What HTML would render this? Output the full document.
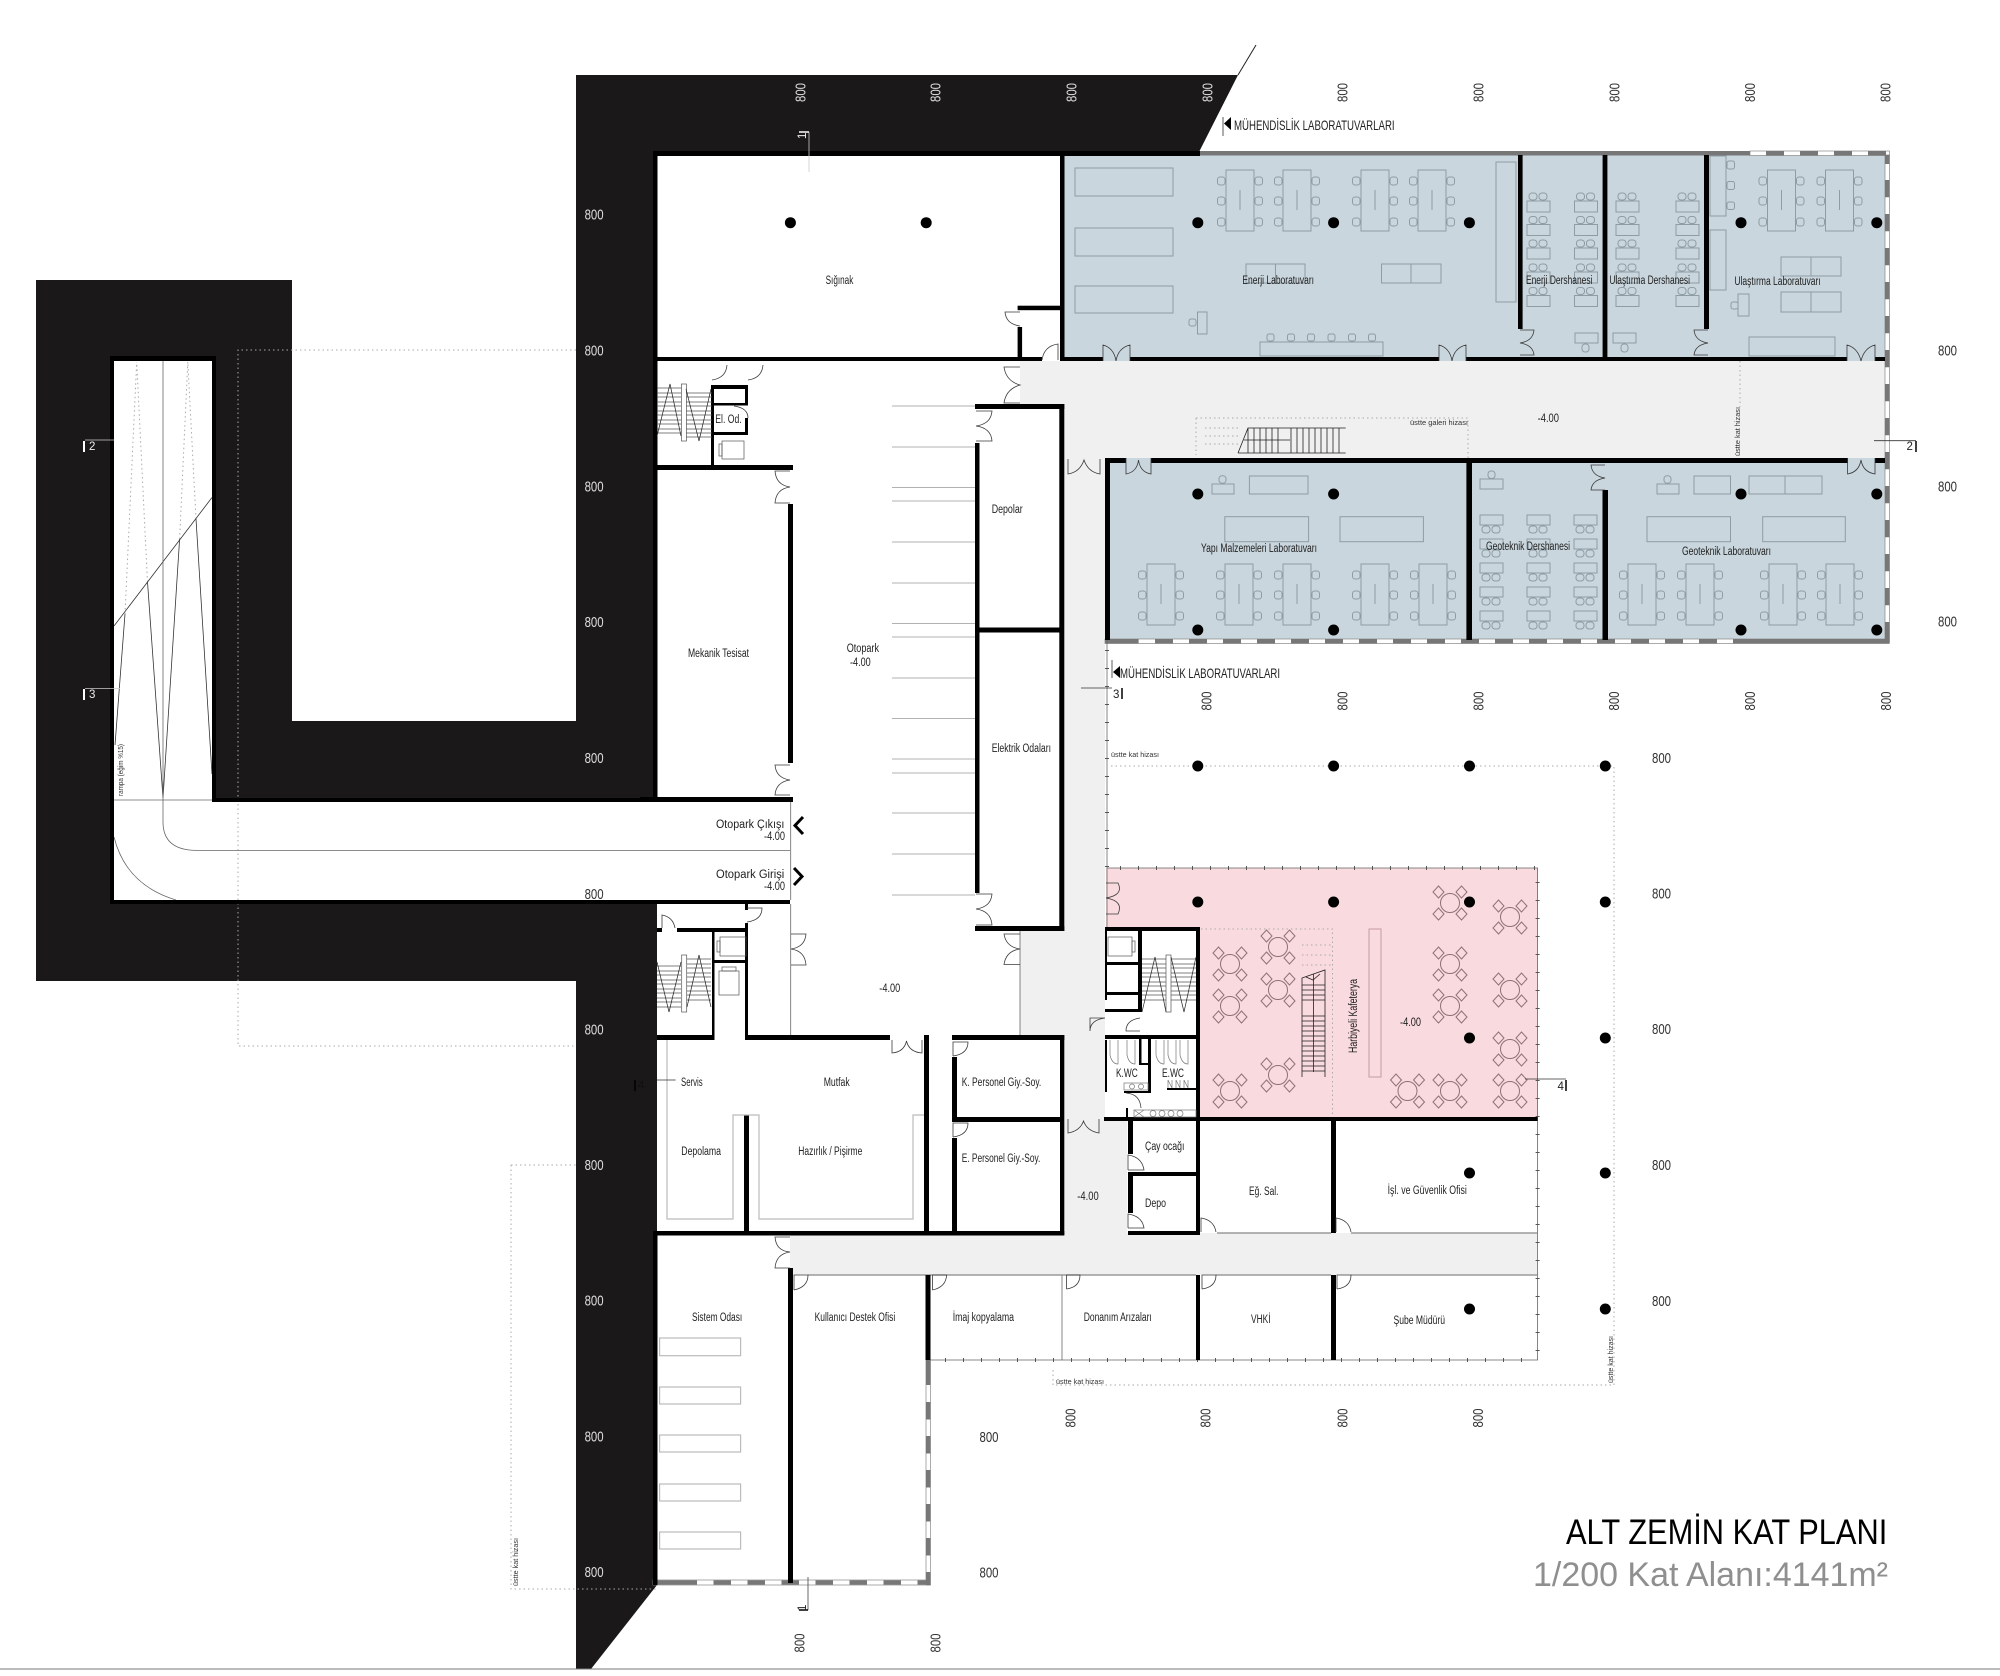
<!DOCTYPE html>
<html lang="tr"><head><meta charset="utf-8"><title>Alt Zemin Kat Planı</title>
<style>
html,body{margin:0;padding:0;background:#fff}
svg{display:block}
text{font-family:"Liberation Sans",sans-serif}
.l text{font-size:11.5px;fill:#222}
.s text{font-size:7px;fill:#333}
.nw text{font-size:15px;fill:#ddd}
.nd text{font-size:15px;fill:#333}
.d{fill:none;stroke:#3a3a3a;stroke-width:.8}
.f{fill:none;stroke:#8e9ca4;stroke-width:1}
.k{fill:#000}
</style></head><body>
<svg xmlns="http://www.w3.org/2000/svg" width="2000" height="1676" viewBox="0 0 2000 1676">
<defs>
<g id="t6" fill="none" stroke="#8e9ca4" stroke-width="1"><rect width="28" height="61"/><path d="M14 20V40"/><rect x="-8.500" y="7" width="7.500" height="8" rx="2.500"/><rect x="-8.500" y="27" width="7.500" height="8" rx="2.500"/><rect x="-8.500" y="48" width="7.500" height="8" rx="2.500"/><rect x="29" y="7" width="7.500" height="8" rx="2.500"/><rect x="29" y="27" width="7.500" height="8" rx="2.500"/><rect x="29" y="48" width="7.500" height="8" rx="2.500"/></g>
<g id="d2" fill="none" stroke="#8e9ca4" stroke-width="1"><rect y="8" width="23" height="11"/><rect x="2" width="8" height="7" rx="3"/><rect x="12" width="8" height="7" rx="3"/></g>
<g id="d2b" fill="none" stroke="#8e9ca4" stroke-width="1"><rect width="23" height="10"/><rect x="2" y="11" width="8" height="7" rx="3"/><rect x="12" y="11" width="8" height="7" rx="3"/></g>
<g id="cf" fill="none" stroke="#8f7076" stroke-width="1"><circle r="9.500"/><path d="M-11.500 -17l5.500 6-5.500 6-5.500-6zM11.500 -17l5.500 6-5.500 6-5.500-6zM-11.500 5l5.500 6-5.500 6-5.500-6zM11.500 5l5.500 6-5.500 6-5.500-6z"/></g>
<circle id="c" r="5.500" fill="#000"/>
</defs>
<rect width="2000" height="1676" fill="#fff"/>

<!-- black earth mass -->
<polygon fill="#1a1819" points="576,75 1238,75 1199,152 1199,155 657,155 657,800 212,800 212,361 114,361 114,900 657,900 657,1585 591,1669 576,1669 576,981 36,981 36,280 292,280 292,721 576,721"/>
<path d="M1238 75L1256 45" stroke="#222" stroke-width="1" fill="none"/>
<path d="M0 1669H2000" stroke="#777" stroke-width="1"/>

<!-- fills -->
<g>
<rect x="1064" y="155" width="823" height="203" fill="#c9d6dd"/>
<rect x="1108" y="463" width="779" height="177" fill="#c9d6dd"/>
<path fill="#f0f0f0" d="M1020 361H1887V458H1105V1100H1127V1233H1537V1275H790V1235H1064V1040H1020V931H1064V404H1020Z"/>
<rect x="1106" y="868" width="431.500" height="250" fill="#f9dade"/>
<rect x="1106" y="928" width="92" height="190" fill="#fff"/>
<rect x="1105" y="1040" width="22" height="80" fill="#fff"/>
</g>

<!-- window bands -->
<g fill="#fff" stroke="#888" stroke-width=".7">
<rect x="1750" y="151" width="139.500" height="4.500"/>
<rect x="1885" y="155" width="4.500" height="488"/>
<rect x="1105" y="639" width="784" height="4.500"/>
<rect x="926" y="1360" width="4.500" height="225"/>
<rect x="653" y="1580" width="277" height="5"/>
</g>
<g fill="none" stroke="#777" stroke-width="4.500">
<path d="M1200 153.200H1750"/>
<path d="M1766 153.200H1889.500" stroke-dasharray="18 16"/>
<path d="M1887.200 155V164"/>
<path d="M1887.200 180V640" stroke-dasharray="17.300 16.700"/>
<path d="M1105 641.300H1138.600"/>
<path d="M1155 641.300H1733" stroke-dasharray="18 16"/>
<path d="M1733 641.300H1889.500"/>
<path d="M928.200 1360V1385"/>
<path d="M928.200 1402V1585" stroke-dasharray="17.500 16.500"/>
<path d="M653 1582.500H697"/>
<path d="M713.500 1582.500H930" stroke-dasharray="17.500 16.500"/>
</g>

<!-- thin outline lines with ticks -->
<g fill="none" stroke="#666" stroke-width=".8">
<path d="M1107 640V930M1107 868H1537.600V1360H930M1062 1275V1360M790.700 802V900M790.700 904V1035M1020 931V1035"/>
<path d="M1217 1233H1331M1351 1233H1537M808 1275H1196M1216 1275H1331M1351 1275H1537" stroke="#888" stroke-width="1.200"/>
</g>
<g fill="none" stroke="#555" stroke-width="4" stroke-dasharray="1 17">
<path d="M1107 650V868"/><path d="M1120 868H1537"/><path d="M1537.600 882V1355"/><path d="M945 1360H1537"/>
</g>

<!-- dotted hidden lines -->
<g fill="none" stroke="#aaa" stroke-width="1" stroke-dasharray="1.500 3">
<path d="M576 350H238V1046H576"/>
<path d="M511 1165H576M511 1165V1589H657"/>
<path d="M1111 766H1614V1385H1053V1367"/>
<path d="M1196 418H1468V458M1196 418V455"/>
<path d="M1740 361V407"/>
<path d="M1201 929H1332.500V1117"/>
<path d="M1302 945H1332M1302 955H1332M1302 965H1332"/>
<path d="M1205 428H1240M1205 436H1240M1205 444H1240"/>
<path d="M125 614L136.700 362M147.500 582L136.700 362M179.600 539L187.800 362M196 519L187.800 362"/>
</g>

<!-- ramp lines -->
<g fill="none" stroke="#333" stroke-width=".8">
<path d="M114 626L212 497.500"/>
<path d="M115 745L125 614M147.500 582L163 798L179.600 539M196 519L212 774"/>
</g>
<g fill="none" stroke="#666" stroke-width=".8">
<path d="M163 361V822Q163 850 196 850.400H790"/>
<path d="M114 800H212"/>
<path d="M114 837Q126 885 176 900"/>
</g>

<!-- parking lines -->
<path fill="none" stroke="#999" stroke-width=".8" d="M892 406H975M892 447H975M892 487.400H975M892 501H975M892 542H975M892 583H975M892 623.600H975M892 637H975M892 678H975M892 718.600H975M892 759H975M892 773H975M892 813H975M892 854H975M892 895H975"/>

<!-- walls -->
<g class="k">
<rect x="653" y="151" width="547" height="5"/>
<rect x="653" y="151" width="4.500" height="649"/>
<rect x="657" y="357" width="385" height="4"/>
<rect x="1060" y="357" width="43" height="4"/>
<rect x="1130" y="357" width="309" height="4"/>
<rect x="1466" y="357" width="381" height="4"/>
<rect x="1875" y="357" width="10" height="4"/>
<rect x="1060" y="155" width="4.500" height="206"/>
<rect x="1017.600" y="305.700" width="42.400" height="4.500"/>
<rect x="1017.600" y="327" width="4.500" height="30"/>
<rect x="1518" y="155" width="4.600" height="174"/>
<rect x="1602.600" y="155" width="4.800" height="203"/>
<rect x="1704" y="155" width="5" height="174"/>
<!-- depolar -->
<rect x="975" y="404" width="89.300" height="5"/>
<rect x="975" y="443" width="4.500" height="450"/>
<rect x="1059.300" y="404" width="5" height="527"/>
<rect x="975" y="627.500" width="89" height="5"/>
<rect x="975" y="926" width="89.300" height="5"/>
<!-- lower labs -->
<rect x="1105" y="458" width="21" height="5"/>
<rect x="1151" y="458" width="696.600" height="5"/>
<rect x="1875" y="458" width="10" height="5"/>
<rect x="1105" y="458" width="5" height="182"/>
<rect x="1466.400" y="463" width="5.600" height="177"/>
<rect x="1602.500" y="490" width="5.500" height="150"/>
<!-- upper left service -->
<rect x="657" y="465" width="136" height="5"/>
<rect x="788" y="504" width="5" height="259"/>
<rect x="640" y="797" width="153" height="5"/>
<rect x="640" y="900" width="150" height="4"/>
<rect x="711" y="385" width="3" height="80"/>
<rect x="711" y="385" width="37" height="4"/>
<rect x="745" y="385" width="3" height="20"/>
<rect x="711" y="403" width="37" height="2.500"/>
<rect x="745" y="418" width="3" height="15"/>
<rect x="711" y="432" width="37" height="3"/>
<!-- corridor ramp walls -->
<rect x="110" y="356" width="4" height="548"/>
<rect x="110" y="356" width="106" height="5"/>
<rect x="212" y="356" width="4" height="446"/>
<rect x="212" y="798" width="441" height="4"/>
<rect x="110" y="900" width="547" height="4"/>
<!-- lower left service -->
<rect x="657" y="928" width="5" height="4"/>
<rect x="677" y="928" width="71" height="4"/>
<rect x="745" y="904" width="3" height="6"/>
<rect x="745" y="923" width="3" height="117"/>
<rect x="712" y="932" width="2.500" height="108"/>
<rect x="712" y="960" width="36" height="3"/>
<rect x="657" y="1035" width="57" height="5"/>
<rect x="745" y="1035" width="145" height="5"/>
<rect x="924" y="1035" width="5" height="196"/>
<rect x="952" y="1035" width="112.300" height="5"/>
<rect x="952" y="1057" width="5" height="60"/>
<rect x="952" y="1117" width="112" height="5"/>
<rect x="952" y="1138" width="5" height="93"/>
<rect x="1060" y="1035" width="4.300" height="200"/>
<rect x="744" y="1115" width="5" height="116"/>
<rect x="657" y="1231" width="407.300" height="4.500"/>
<rect x="653" y="1231" width="4.500" height="354"/>
<rect x="788" y="1268" width="5" height="315"/>
<rect x="925.500" y="1275" width="5" height="85"/>
<!-- wc block -->
<rect x="1105" y="927" width="95" height="4"/>
<rect x="1196" y="927" width="4" height="308"/>
<rect x="1105" y="927" width="2" height="73"/>
<rect x="1138" y="931" width="4" height="81"/>
<rect x="1105" y="962" width="35" height="3"/>
<rect x="1105" y="992" width="35" height="3"/>
<rect x="1105" y="1009" width="35" height="3"/>
<rect x="1105" y="1035" width="93" height="4"/>
<rect x="1105" y="1040" width="2" height="52"/>
<rect x="1139" y="1039" width="2.500" height="25"/>
<rect x="1139" y="1063" width="11" height="2"/>
<rect x="1148" y="1039" width="3" height="53"/>
<rect x="1124" y="1091" width="27" height="2"/>
<rect x="1167" y="1088" width="29" height="2"/>
<rect x="1126" y="1108" width="2" height="12"/>
<rect x="1104" y="1117" width="433.500" height="4"/>
<rect x="1128" y="1121" width="5" height="33"/>
<rect x="1128" y="1172" width="70" height="4"/>
<rect x="1128" y="1176" width="5" height="37"/>
<rect x="1128" y="1231" width="72" height="4"/>
<rect x="1331" y="1121" width="5" height="112"/>
<rect x="1196" y="1275" width="4" height="85"/>
<rect x="1331" y="1275" width="5" height="85"/>
</g>

<!-- lab door gaps -->
<g fill="#c9d6dd"><rect x="1103" y="345" width="27" height="16"/><rect x="1439" y="345" width="27" height="16"/><rect x="1847" y="345" width="28" height="16"/><rect x="1126" y="458" width="25" height="16"/><rect x="1847.600" y="458" width="27.400" height="16"/></g>

<!-- doors -->
<path class="d" d="
M1020 312H1005Q1006 324 1020 326
M1058 360V344Q1044 346 1042 360
M1103 361V345Q1114 348 1116 361Q1118 348 1130 345V361
M1439 361V345Q1450 348 1452 361Q1454 348 1466 345V361
M1847 361V345Q1858 348 1861 361Q1864 348 1875 345V361
M1520 330H1534Q1533 341 1520 343Q1533 345 1534 355H1520
M1708 330H1694Q1695 341 1708 343Q1695 345 1694 355H1708
M1020 367H1004Q1006 381 1020 385Q1006 389 1004 403H1020
M976 411H992Q991 424 976 426Q991 428 992 441H976
M976 894H992Q991 907 976 909Q991 911 992 925H976
M1020 934H1004Q1006 947 1020 949Q1006 951 1004 964.500H1020
M790 471H775Q776 485 790 487Q776 489 775 503H790
M790 765H775Q776 778 790 780Q776 782 775 795H790
M791 934H806Q805 947 791 949Q805 951 806 965H791
M1068 459V474Q1080 472 1084 460Q1088 472 1100 474V459
M1126 458V474Q1137 472 1138.500 460Q1140 472 1151 474V458
M1847.600 458V474Q1859 472 1861 460Q1863 472 1875 474V458
M1605 465H1591Q1592 476 1605 478Q1592 480 1591 490H1605
M727 365Q726 378 712 380M763 365Q762 378 748 380
M748 418Q748 408 734 406
M1068 1119V1133Q1080 1131 1083.500 1121Q1087 1131 1099 1133V1119
M892 1040V1053Q904 1052 906.500 1041Q909 1052 922 1053V1040
M953 1056V1042H968Q968 1054 953 1056M953 1137V1123H968Q968 1135 953 1137
M1105 1018H1090V1031M1090 1031Q1090 1020 1105 1018M1140 1018Q1126 1020 1126 1031H1140
M1106 883H1118Q1124 895 1106 898Q1124 901 1118 914H1106
M1128 1170V1155Q1142 1157 1144 1170H1128M1128 1228V1214Q1142 1216 1144 1228H1128
M1201 1232V1218Q1214 1220 1216 1232M1336 1232V1218Q1349 1220 1351 1232
M794 1290V1275H808Q808 1287 794 1290M932.500 1290V1275H946.600Q946 1287 932.500 1290M1066.500 1289V1275H1080Q1080 1287 1066.500 1289M1202 1289V1275H1216Q1216 1287 1202 1289M1337 1289V1275H1351Q1351 1287 1337 1289
M790 1237H775Q776 1251 790 1252Q776 1254 775 1268H790
M662 928V915Q673 917 675 928M747 922Q762 920 762 908H747
M1141 1108Q1140 1094 1126 1093
"/>

<!-- stairs -->
<g fill="none" stroke="#555" stroke-width=".7">
<path d="M657 388H681M657 393H681M657 397H681M657 402H681M657 406H681M657 411H681M657 415H681M657 420H681M657 424H681M657 429H681M657 433H681M686 393H712M686 397H712M686 402H712M686 406H712M686 411H712M686 415H712M686 420H712M686 424H712M686 429H712M686 433H712M686 437H712"/>
<rect x="681.400" y="384" width="5" height="57"/>
<path d="M657 436L670 384L681 436M686 389L699 441L711 389" stroke="#222"/>
<path d="M657 966H681M657 971H681M657 975H681M657 980H681M657 984H681M657 989H681M657 993H681M657 998H681M657 1002H681M657 1007H681M687 959H711M687 964H711M687 968H711M687 973H711M687 977H711M687 982H711M687 986H711M687 991H711M687 995H711M687 1000H711"/>
<rect x="681.700" y="955" width="5" height="57"/>
<path d="M657 962L669 1012L681 962M687 1007L699 955L711 1007" stroke="#222"/>
<path d="M1142 959H1166M1142 964H1166M1142 968H1166M1142 973H1166M1142 977H1166M1142 982H1166M1142 986H1166M1142 991H1166M1142 995H1166M1142 1000H1166M1171 959H1196M1171 964H1196M1171 968H1196M1171 973H1196M1171 977H1196M1171 982H1196M1171 986H1196M1171 991H1196M1171 995H1196M1171 1000H1196"/>
<rect x="1166" y="955" width="5" height="57"/>
<path d="M1142 1012L1155 957L1166 1012M1171 957L1184 1012L1196 957" stroke="#222"/>
<!-- elevators -->
<rect x="722" y="441" width="22" height="18"/><rect x="719" y="444" width="3" height="12"/>
<rect x="720" y="937" width="26" height="19"/><rect x="717" y="941" width="3" height="11"/>
<rect x="719" y="971" width="20" height="24"/><rect x="722" y="967" width="14" height="4"/>
<rect x="1108" y="937" width="24" height="19"/><rect x="1132" y="941" width="3" height="11"/>
</g>
<g fill="none" stroke="#222" stroke-width=".8">
<!-- gallery stair -->
<path d="M1238 453L1248 428H1345.700M1238 453H1345.700M1248 428V453M1254 428V453M1260 428V453M1266 428V453M1272 428V453M1278 428V453M1291 428V453M1297 428V453M1303 428V453M1309 428V453M1315 428V453M1321 428V453M1327 428V453M1333 428V453M1339 428V453M1244 440H1290"/>
<!-- cafe stair -->
<path d="M1302 1077V978L1325 970V1077M1302 1016H1325M1302 1021H1325M1302 1026H1325M1302 1031H1325M1302 1036H1325M1302 1041H1325M1302 1046H1325M1302 1051H1325M1302 1056H1325M1302 1061H1325M1302 1066H1325M1302 1071H1325M1302 985H1325M1302 990H1325M1302 995H1325M1302 1000H1325M1313.500 974V1072M1306 977L1313 980L1320 974"/>
</g>
<!-- WC fixtures -->
<g fill="none" stroke="#777" stroke-width=".7">
<path d="M1110 1040V1055Q1112 1064 1118 1064V1040M1127 1040V1055Q1129 1064 1135 1064V1040M1156 1040V1055Q1158 1064 1164 1064V1040M1168 1040V1055Q1170 1064 1176 1064V1040M1180 1040V1055Q1182 1064 1188 1064V1040"/>
<rect x="1124" y="1083" width="24" height="7"/><circle cx="1132" cy="1086.500" r="2.500"/><circle cx="1141" cy="1086.500" r="2.500"/>
<path d="M1168 1088V1080L1172 1088V1080M1176 1088V1080L1180 1088V1080M1184 1088V1080L1188 1088V1080"/>
<rect x="1134" y="1110" width="62" height="7"/><path d="M1134 1110L1144 1117M1144 1110L1134 1117"/><circle cx="1153" cy="1113.500" r="3"/><circle cx="1162" cy="1113.500" r="3"/><circle cx="1171" cy="1113.500" r="3"/><circle cx="1180" cy="1113.500" r="3"/>
</g>

<!-- kitchen counters & racks -->
<g fill="none" stroke="#bbb" stroke-width="1.200">
<path d="M667 1040V1219H733V1115H759V1219H913V1115H924"/>
<rect x="659.600" y="1338" width="81" height="17.700"/><rect x="659.600" y="1387" width="81" height="17"/><rect x="659.600" y="1435" width="81" height="17"/><rect x="659.600" y="1484" width="81" height="17"/><rect x="659.600" y="1532" width="81" height="17"/>
</g>

<!-- energy lab furniture -->
<g class="f">
<rect x="1075" y="168" width="98" height="28"/><rect x="1075" y="228" width="98" height="28"/><rect x="1075" y="286" width="98" height="27"/>
<rect x="1496" y="162" width="20" height="140"/>
<path d="M1246 264H1305V283H1246ZM1275.500 264V283M1381.500 264H1441V283H1381.500ZM1411 264V283"/>
<rect x="1197.500" y="312" width="9.500" height="22"/><rect x="1189" y="319" width="7" height="7" rx="2"/>
<rect x="1260" y="342" width="123" height="14"/>
<rect x="1267" y="334" width="7" height="7" rx="2"/><rect x="1287.500" y="334" width="7" height="7" rx="2"/><rect x="1307.500" y="334" width="7" height="7" rx="2"/><rect x="1328" y="334" width="7" height="7" rx="2"/><rect x="1348.500" y="334" width="7" height="7" rx="2"/><rect x="1368.500" y="334" width="7" height="7" rx="2"/>
<rect x="1710" y="156" width="16" height="60"/><rect x="1710" y="230" width="16" height="60"/>
<rect x="1727" y="161" width="7.500" height="8" rx="2"/><rect x="1727" y="181.500" width="7.500" height="8" rx="2"/><rect x="1727" y="202" width="7.500" height="7.500" rx="2"/>
<path d="M1781 257H1841V276H1781ZM1811 257V276M1781 292H1841V312H1781ZM1811 292V312"/>
<rect x="1738" y="294" width="11" height="22"/><rect x="1731" y="302" width="7" height="7" rx="2"/>
<rect x="1749" y="337" width="86" height="19"/>
<rect x="1575" y="333" width="23" height="10"/><rect x="1582" y="344" width="7" height="8" rx="3"/>
<rect x="1613" y="333" width="23" height="10"/><rect x="1621" y="344" width="7" height="8" rx="3"/>
<!-- lower labs -->
<rect x="1212" y="484" width="22" height="10"/><rect x="1219" y="475.700" width="7" height="7.500" rx="3"/>
<rect x="1249.400" y="476" width="58.600" height="18"/>
<rect x="1224.800" y="516.700" width="83.800" height="25"/><rect x="1340" y="516.700" width="83.400" height="25"/>
<rect x="1657" y="484" width="22" height="10"/><rect x="1664" y="475.700" width="7" height="7.500" rx="3"/>
<rect x="1694" y="476" width="36.500" height="18"/>
<path d="M1749 476H1822V494H1749ZM1785 476V494"/>
<rect x="1647" y="516.700" width="83.500" height="25"/><rect x="1762.700" y="516.700" width="82.600" height="25"/>
<rect x="1480" y="479" width="23" height="10"/><rect x="1488" y="471" width="7" height="7.500" rx="3"/>
</g>
<g>
<use href="#t6" x="1226" y="170"/><use href="#t6" x="1283" y="170"/><use href="#t6" x="1361" y="170"/><use href="#t6" x="1418" y="170"/><use href="#t6" x="1767.500" y="170"/><use href="#t6" x="1825.500" y="170"/>
<use href="#t6" x="1147" y="564"/><use href="#t6" x="1225" y="564"/><use href="#t6" x="1283" y="564"/><use href="#t6" x="1361" y="564"/><use href="#t6" x="1419" y="564"/><use href="#t6" x="1628" y="564"/><use href="#t6" x="1686" y="564"/><use href="#t6" x="1769" y="564"/><use href="#t6" x="1826" y="564"/>
<use href="#d2" x="1527" y="193"/><use href="#d2" x="1574.500" y="193"/><use href="#d2" x="1616" y="193"/><use href="#d2" x="1676" y="193"/>
<use href="#d2" x="1527" y="216.500"/><use href="#d2" x="1574.500" y="216.500"/><use href="#d2" x="1616" y="216.500"/><use href="#d2" x="1676" y="216.500"/>
<use href="#d2" x="1527" y="240"/><use href="#d2" x="1574.500" y="240"/><use href="#d2" x="1616" y="240"/><use href="#d2" x="1676" y="240"/>
<use href="#d2" x="1527" y="264"/><use href="#d2" x="1574.500" y="264"/><use href="#d2" x="1616" y="264"/><use href="#d2" x="1676" y="264"/>
<use href="#d2" x="1527" y="287.500"/><use href="#d2" x="1574.500" y="287.500"/><use href="#d2" x="1616" y="287.500"/><use href="#d2" x="1676" y="287.500"/>
<use href="#d2b" x="1480" y="515"/><use href="#d2b" x="1527" y="515"/><use href="#d2b" x="1574" y="515"/>
<use href="#d2b" x="1480" y="539"/><use href="#d2b" x="1527" y="539"/><use href="#d2b" x="1574" y="539"/>
<use href="#d2b" x="1480" y="563"/><use href="#d2b" x="1527" y="563"/><use href="#d2b" x="1574" y="563"/>
<use href="#d2b" x="1480" y="587"/><use href="#d2b" x="1527" y="587"/><use href="#d2b" x="1574" y="587"/>
<use href="#d2b" x="1480" y="611"/><use href="#d2b" x="1527" y="611"/><use href="#d2b" x="1574" y="611"/>
<use href="#cf" x="1450" y="903"/><use href="#cf" x="1510" y="917"/><use href="#cf" x="1230" y="964"/><use href="#cf" x="1278" y="947"/><use href="#cf" x="1450" y="964"/><use href="#cf" x="1278" y="990"/><use href="#cf" x="1230" y="1006"/><use href="#cf" x="1510" y="990"/><use href="#cf" x="1450" y="1006"/><use href="#cf" x="1510" y="1049"/><use href="#cf" x="1278" y="1075"/><use href="#cf" x="1230" y="1091"/><use href="#cf" x="1407.500" y="1091"/><use href="#cf" x="1450" y="1091"/><use href="#cf" x="1510" y="1091"/>
</g>
<rect x="1369" y="929" width="12" height="148" fill="none" stroke="#c59aa2" stroke-width="1"/>

<!-- columns -->
<g>
<use href="#c" x="790.400" y="222.700"/><use href="#c" x="926.200" y="222.700"/><use href="#c" x="1197.800" y="222.700"/><use href="#c" x="1333.600" y="222.700"/><use href="#c" x="1469.400" y="222.700"/><use href="#c" x="1741" y="222.700"/><use href="#c" x="1876.800" y="222.700"/>
<use href="#c" x="1197.800" y="494"/><use href="#c" x="1333.600" y="494"/><use href="#c" x="1741" y="494"/><use href="#c" x="1876.800" y="494"/>
<use href="#c" x="1197.800" y="630"/><use href="#c" x="1333.600" y="630"/><use href="#c" x="1741" y="630"/><use href="#c" x="1876.800" y="630"/>
<use href="#c" x="1197.800" y="766"/><use href="#c" x="1333.600" y="766"/><use href="#c" x="1469.500" y="766"/><use href="#c" x="1605.300" y="766"/>
<use href="#c" x="1197.800" y="902"/><use href="#c" x="1333.600" y="902"/><use href="#c" x="1469.500" y="902"/><use href="#c" x="1605.300" y="902"/>
<use href="#c" x="1469.500" y="1038"/><use href="#c" x="1605.300" y="1038"/><use href="#c" x="1469.500" y="1173"/><use href="#c" x="1605.300" y="1173"/><use href="#c" x="1469.500" y="1309"/><use href="#c" x="1605.300" y="1309"/>
</g>

<!-- chevrons and section lines -->
<path d="M803 817L795 825.500L803 834M794 868L802 876.500L794 885" fill="none" stroke="#000" stroke-width="3"/>
<path d="M1231 117L1224 123.500L1231 130Z" fill="#000"/><path d="M1120 666L1113 672L1120 678Z" fill="#000"/>
<path d="M1223 117V136M1112 660V678" stroke="#333" stroke-width=".8" fill="none"/>
<g fill="none" stroke-width=".8">
<path d="M809 132V172" stroke="#ccc"/><path d="M799 132H809" stroke="#fff" stroke-width="1.500"/>
<path d="M808 1577V1610" stroke="#444"/><path d="M799 1610H808" stroke="#000" stroke-width="1.500"/>
<path d="M85 440H114M85 688.500H120" stroke="#ccc"/>
<path d="M84 441V452M84 689V700" stroke="#fff" stroke-width="2"/>
<path d="M1874 440.700H1916M1081 688H1112M1525 1079H1566" stroke="#333"/>
<path d="M1916 441V452M1122 688V699M1566 1080V1091" stroke="#000" stroke-width="1.500"/>
<path d="M657 1080H675.600" stroke="#333"/>
<path d="M635 1080V1091" stroke="#000" stroke-width="1.500"/>
</g>

<!-- room labels -->
<g class="l">
<text x="825.600" y="284" textLength="27.700" lengthAdjust="spacingAndGlyphs">Sığınak</text>
<text x="1242.400" y="284" textLength="71.600" lengthAdjust="spacingAndGlyphs">Enerji Laboratuvarı</text>
<text x="1526" y="284" textLength="66.400" lengthAdjust="spacingAndGlyphs">Enerji Dershanesi</text>
<text x="1609.400" y="284" textLength="80.600" lengthAdjust="spacingAndGlyphs">Ulaştırma Dershanesi</text>
<text x="1734.400" y="285" textLength="86.300" lengthAdjust="spacingAndGlyphs">Ulaştırma Laboratuvarı</text>
<text x="1537.600" y="422" textLength="21.400" lengthAdjust="spacingAndGlyphs">-4.00</text>
<text x="991.700" y="513" textLength="31" lengthAdjust="spacingAndGlyphs">Depolar</text>
<text x="991.700" y="752" textLength="59.300" lengthAdjust="spacingAndGlyphs">Elektrik Odaları</text>
<text x="846.700" y="652" textLength="32.300" lengthAdjust="spacingAndGlyphs">Otopark</text>
<text x="850" y="666" textLength="20.700" lengthAdjust="spacingAndGlyphs">-4.00</text>
<text x="688" y="657" textLength="61" lengthAdjust="spacingAndGlyphs">Mekanik Tesisat</text>
<text x="715.300" y="423" textLength="26.400" lengthAdjust="spacingAndGlyphs">El. Od.</text>
<text x="716" y="828" textLength="68.300" lengthAdjust="spacingAndGlyphs">Otopark Çıkışı</text>
<text x="764" y="840" textLength="21" lengthAdjust="spacingAndGlyphs">-4.00</text>
<text x="716" y="878" textLength="68.300" lengthAdjust="spacingAndGlyphs">Otopark Girişi</text>
<text x="764" y="890" textLength="21" lengthAdjust="spacingAndGlyphs">-4.00</text>
<text x="879.300" y="992" textLength="21" lengthAdjust="spacingAndGlyphs">-4.00</text>
<text x="681" y="1086" textLength="21.700" lengthAdjust="spacingAndGlyphs">Servis</text>
<text x="823.700" y="1086" textLength="26" lengthAdjust="spacingAndGlyphs">Mutfak</text>
<text x="681.300" y="1155" textLength="39.700" lengthAdjust="spacingAndGlyphs">Depolama</text>
<text x="798.300" y="1155" textLength="64" lengthAdjust="spacingAndGlyphs">Hazırlık / Pişirme</text>
<text x="961.700" y="1086" textLength="79.600" lengthAdjust="spacingAndGlyphs">K. Personel Giy.-Soy.</text>
<text x="961.700" y="1162" textLength="78.700" lengthAdjust="spacingAndGlyphs">E. Personel Giy.-Soy.</text>
<text x="1077.300" y="1200" textLength="21.400" lengthAdjust="spacingAndGlyphs">-4.00</text>
<text x="1145" y="1150" textLength="39.400" lengthAdjust="spacingAndGlyphs">Çay ocağı</text>
<text x="1145" y="1207" textLength="21" lengthAdjust="spacingAndGlyphs">Depo</text>
<text x="1249" y="1195" textLength="29.500" lengthAdjust="spacingAndGlyphs">Eğ. Sal.</text>
<text x="1387.600" y="1194" textLength="79.200" lengthAdjust="spacingAndGlyphs">İşl. ve Güvenlik Ofisi</text>
<text x="1116" y="1077" textLength="21.700" lengthAdjust="spacingAndGlyphs">K.WC</text>
<text x="1162" y="1077" textLength="22" lengthAdjust="spacingAndGlyphs">E.WC</text>
<text x="1083.700" y="1321" textLength="68.100" lengthAdjust="spacingAndGlyphs">Donanım Arızaları</text>
<text x="1251" y="1323" textLength="19.600" lengthAdjust="spacingAndGlyphs">VHKİ</text>
<text x="1393.500" y="1324" textLength="51.500" lengthAdjust="spacingAndGlyphs">Şube Müdürü</text>
<text x="692" y="1321" textLength="50.200" lengthAdjust="spacingAndGlyphs">Sistem Odası</text>
<text x="814.600" y="1321" textLength="80.700" lengthAdjust="spacingAndGlyphs">Kullanıcı Destek Ofisi</text>
<text x="952.700" y="1321" textLength="61.300" lengthAdjust="spacingAndGlyphs">İmaj kopyalama</text>
<text x="1201" y="552" textLength="116" lengthAdjust="spacingAndGlyphs">Yapı Malzemeleri Laboratuvarı</text>
<text x="1486" y="550" textLength="84" lengthAdjust="spacingAndGlyphs">Geoteknik Dershanesi</text>
<text x="1682" y="555" textLength="89" lengthAdjust="spacingAndGlyphs">Geoteknik Laboratuvarı</text>
<text x="1234" y="130" textLength="160.600" lengthAdjust="spacingAndGlyphs" style="font-size:14px">MÜHENDİSLİK LABORATUVARLARI</text>
<text x="1120" y="678" textLength="160" lengthAdjust="spacingAndGlyphs" style="font-size:14px">MÜHENDİSLİK LABORATUVARLARI</text>
<text x="1400" y="1026" textLength="21" lengthAdjust="spacingAndGlyphs">-4.00</text>
<text transform="translate(1357 1016) rotate(-90)" x="-37" textLength="74" lengthAdjust="spacingAndGlyphs">Harbiyeli Kafeterya</text>
<text x="89" y="450" style="fill:#eee">2</text><text x="89" y="698" style="fill:#eee">3</text>
<text x="1906.500" y="450">2</text><text x="1113" y="698">3</text><text x="1557.500" y="1090">4</text><text x="638" y="1089" style="fill:#111">4</text>
<text transform="translate(806 135) rotate(-90)" x="-4" style="fill:#eee">1</text>
<text transform="translate(806 1607) rotate(-90)" x="-4">1</text>
</g>

<!-- small labels -->
<g class="s">
<text x="1410" y="425" textLength="58" lengthAdjust="spacingAndGlyphs">üstte galeri hizası</text>
<text transform="translate(1740 456) rotate(-90)" textLength="49" lengthAdjust="spacingAndGlyphs">üstte kat hizası</text>
<text transform="translate(123 796) rotate(-90)" textLength="52" lengthAdjust="spacingAndGlyphs">rampa (eğim %15)</text>
<text transform="translate(518 1586) rotate(-90)" textLength="48" lengthAdjust="spacingAndGlyphs">üstte kat hizası</text>
<text transform="translate(1613 1383) rotate(-90)" textLength="47" lengthAdjust="spacingAndGlyphs">üstte kat hizası</text>
<text x="1056" y="1384" textLength="48" lengthAdjust="spacingAndGlyphs">üstte kat hizası</text>
<text x="1111" y="757" textLength="48" lengthAdjust="spacingAndGlyphs">üstte kat hizası</text>
</g>

<!-- grid dimensions -->
<g class="nw">
<text x="584.600" y="219.500" textLength="19" lengthAdjust="spacingAndGlyphs">800</text>
<text x="584.600" y="355.500" textLength="19" lengthAdjust="spacingAndGlyphs">800</text>
<text x="584.600" y="491.500" textLength="19" lengthAdjust="spacingAndGlyphs">800</text>
<text x="584.600" y="627" textLength="19" lengthAdjust="spacingAndGlyphs">800</text>
<text x="584.600" y="762.800" textLength="19" lengthAdjust="spacingAndGlyphs">800</text>
<text x="584.600" y="1034.500" textLength="19" lengthAdjust="spacingAndGlyphs">800</text>
<text x="584.600" y="1170" textLength="19" lengthAdjust="spacingAndGlyphs">800</text>
<text x="584.600" y="1305.500" textLength="19" lengthAdjust="spacingAndGlyphs">800</text>
<text x="584.600" y="1441.500" textLength="19" lengthAdjust="spacingAndGlyphs">800</text>
<text x="584.600" y="1577" textLength="19" lengthAdjust="spacingAndGlyphs">800</text>
<text transform="translate(800 92.500) rotate(-90)" x="-9.500" y="5.500" textLength="19" lengthAdjust="spacingAndGlyphs">800</text>
<text transform="translate(935 92.500) rotate(-90)" x="-9.500" y="5.500" textLength="19" lengthAdjust="spacingAndGlyphs">800</text>
<text transform="translate(1071 92.500) rotate(-90)" x="-9.500" y="5.500" textLength="19" lengthAdjust="spacingAndGlyphs">800</text>
<text transform="translate(1207 92.500) rotate(-90)" x="-9.500" y="5.500" textLength="19" lengthAdjust="spacingAndGlyphs">800</text>
</g>
<g class="nd">
<text x="584.600" y="899" textLength="19" lengthAdjust="spacingAndGlyphs">800</text>
<text x="1938" y="355.500" textLength="19" lengthAdjust="spacingAndGlyphs">800</text>
<text x="1938" y="491.500" textLength="19" lengthAdjust="spacingAndGlyphs">800</text>
<text x="1938" y="626.500" textLength="19" lengthAdjust="spacingAndGlyphs">800</text>
<text x="1652" y="763" textLength="19" lengthAdjust="spacingAndGlyphs">800</text>
<text x="1652" y="898.500" textLength="19" lengthAdjust="spacingAndGlyphs">800</text>
<text x="1652" y="1034" textLength="19" lengthAdjust="spacingAndGlyphs">800</text>
<text x="1652" y="1170" textLength="19" lengthAdjust="spacingAndGlyphs">800</text>
<text x="1652" y="1306" textLength="19" lengthAdjust="spacingAndGlyphs">800</text>
<text x="979.500" y="1442" textLength="19" lengthAdjust="spacingAndGlyphs">800</text>
<text x="979.500" y="1577.500" textLength="19" lengthAdjust="spacingAndGlyphs">800</text>
<text transform="translate(1342 92.500) rotate(-90)" x="-9.500" y="5.500" textLength="19" lengthAdjust="spacingAndGlyphs">800</text>
<text transform="translate(1478 92.500) rotate(-90)" x="-9.500" y="5.500" textLength="19" lengthAdjust="spacingAndGlyphs">800</text>
<text transform="translate(1614 92.500) rotate(-90)" x="-9.500" y="5.500" textLength="19" lengthAdjust="spacingAndGlyphs">800</text>
<text transform="translate(1749.500 92.500) rotate(-90)" x="-9.500" y="5.500" textLength="19" lengthAdjust="spacingAndGlyphs">800</text>
<text transform="translate(1885 92.500) rotate(-90)" x="-9.500" y="5.500" textLength="19" lengthAdjust="spacingAndGlyphs">800</text>
<text transform="translate(1206 701) rotate(-90)" x="-9.500" y="5.500" textLength="19" lengthAdjust="spacingAndGlyphs">800</text>
<text transform="translate(1342 701) rotate(-90)" x="-9.500" y="5.500" textLength="19" lengthAdjust="spacingAndGlyphs">800</text>
<text transform="translate(1478 701) rotate(-90)" x="-9.500" y="5.500" textLength="19" lengthAdjust="spacingAndGlyphs">800</text>
<text transform="translate(1613.400 701) rotate(-90)" x="-9.500" y="5.500" textLength="19" lengthAdjust="spacingAndGlyphs">800</text>
<text transform="translate(1749.400 701) rotate(-90)" x="-9.500" y="5.500" textLength="19" lengthAdjust="spacingAndGlyphs">800</text>
<text transform="translate(1885.500 701) rotate(-90)" x="-9.500" y="5.500" textLength="19" lengthAdjust="spacingAndGlyphs">800</text>
<text transform="translate(1070 1418) rotate(-90)" x="-9.500" y="5.500" textLength="19" lengthAdjust="spacingAndGlyphs">800</text>
<text transform="translate(1205 1418) rotate(-90)" x="-9.500" y="5.500" textLength="19" lengthAdjust="spacingAndGlyphs">800</text>
<text transform="translate(1342 1418) rotate(-90)" x="-9.500" y="5.500" textLength="19" lengthAdjust="spacingAndGlyphs">800</text>
<text transform="translate(1477.500 1418) rotate(-90)" x="-9.500" y="5.500" textLength="19" lengthAdjust="spacingAndGlyphs">800</text>
<text transform="translate(799 1643) rotate(-90)" x="-9.500" y="5.500" textLength="19" lengthAdjust="spacingAndGlyphs">800</text>
<text transform="translate(935 1643) rotate(-90)" x="-9.500" y="5.500" textLength="19" lengthAdjust="spacingAndGlyphs">800</text>
</g>

<!-- title -->
<text x="1566" y="1544" textLength="321.300" lengthAdjust="spacingAndGlyphs" style="font-size:35px;fill:#000">ALT ZEMİN KAT PLANI</text>
<text x="1533" y="1586" textLength="355" lengthAdjust="spacingAndGlyphs" style="font-size:34px;fill:#8f8f8f">1/200 Kat Alanı:4141m²</text>
</svg>
</body></html>
